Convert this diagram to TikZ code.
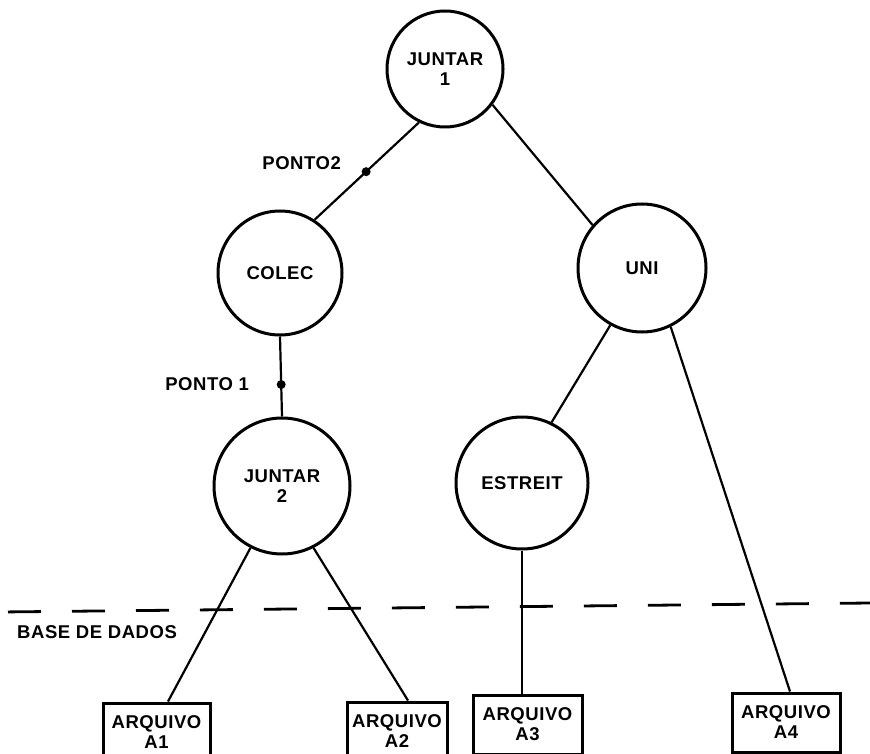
\documentclass[tikz,border=0pt]{standalone}
\usepackage{fontspec}
\setmainfont{Liberation Sans}[LetterSpace=3.0]
\begin{document}
\begin{tikzpicture}[x=1pt,y=-1pt,
  every node/.style={font=\bfseries\fontsize{18.5}{20}\selectfont},
  proc/.style={circle,draw,line width=3pt,inner sep=0pt,align=center},
  filebox/.style={rectangle,draw,line width=3pt,inner sep=0pt,minimum height=59pt,align=center},
  link/.style={line width=2.2pt},
  junction/.style={circle,fill,inner sep=0pt,minimum size=9pt},
  tag/.style={inner sep=0pt},
  boundary/.style={line width=2.8pt,dash pattern=on 33pt off 31pt,dash phase=56pt}
]
% page frame
\fill[white] (0,0) rectangle (870,754);
\useasboundingbox (0,0) rectangle (870,754);
\clip (0,0) rectangle (870,754);

% operators of the query tree
\node[proc,minimum size=116pt] (J1)    at (445,69)  {JUNTAR\\1};
\node[proc,minimum size=124pt] (COLEC) at (280,273) {COLEC};
\node[proc,minimum size=128pt] (UNI)   at (642,268) {UNI};
\node[proc,minimum size=136pt] (J2)    at (282,486) {JUNTAR\\2};
\node[proc,minimum size=132pt] (EST)   at (522,483) {ESTREIT};

% stored files
\node[filebox,minimum width=107pt] (A1) at (156.5,732.5) {ARQUIVO\\A1};
\node[filebox,minimum width=100pt] (A2) at (397,731.5)   {ARQUIVO\\A2};
\node[filebox,minimum width=109pt] (A3) at (527.5,724.5) {ARQUIVO\\A3};
\node[filebox,minimum width=108pt] (A4) at (786,722.5)   {ARQUIVO\\A4};

% tree edges
\draw[link] (J1.244) -- node[junction,pos=.506] (P2) {} (COLEC.57);
\draw[link] (J1.323) -- (UNI.139);
\draw[link] (COLEC.south) -- node[junction,pos=.6] (P1) {} (J2.north);
\draw[link] (UNI.241) -- (EST.64);
\draw[link] (UNI.296) -- ([xshift=4pt]A4.north);
\draw[link] (J2.243) -- ([xshift=11.5pt]A1.north);
\draw[link] (J2.297) -- ([xshift=11pt]A2.north);
\draw[link] (EST.south) -- (EST.south |- A3.north);

% labels of the marked points
\node[tag,anchor=east] (L2) at ([xshift=-25pt,yshift=9pt]P2) {PONTO2};
\node[tag,anchor=east] (L1) at ([xshift=-32pt]P1) {PONTO 1};

% database boundary
\coordinate (dbL) at (0,612);
\coordinate (dbR) at (870,603);
\draw[boundary] (dbL) -- (dbR);
\node[tag,anchor=west] (DB) at (17,632) {BASE DE DADOS};
\end{tikzpicture}
\end{document}
